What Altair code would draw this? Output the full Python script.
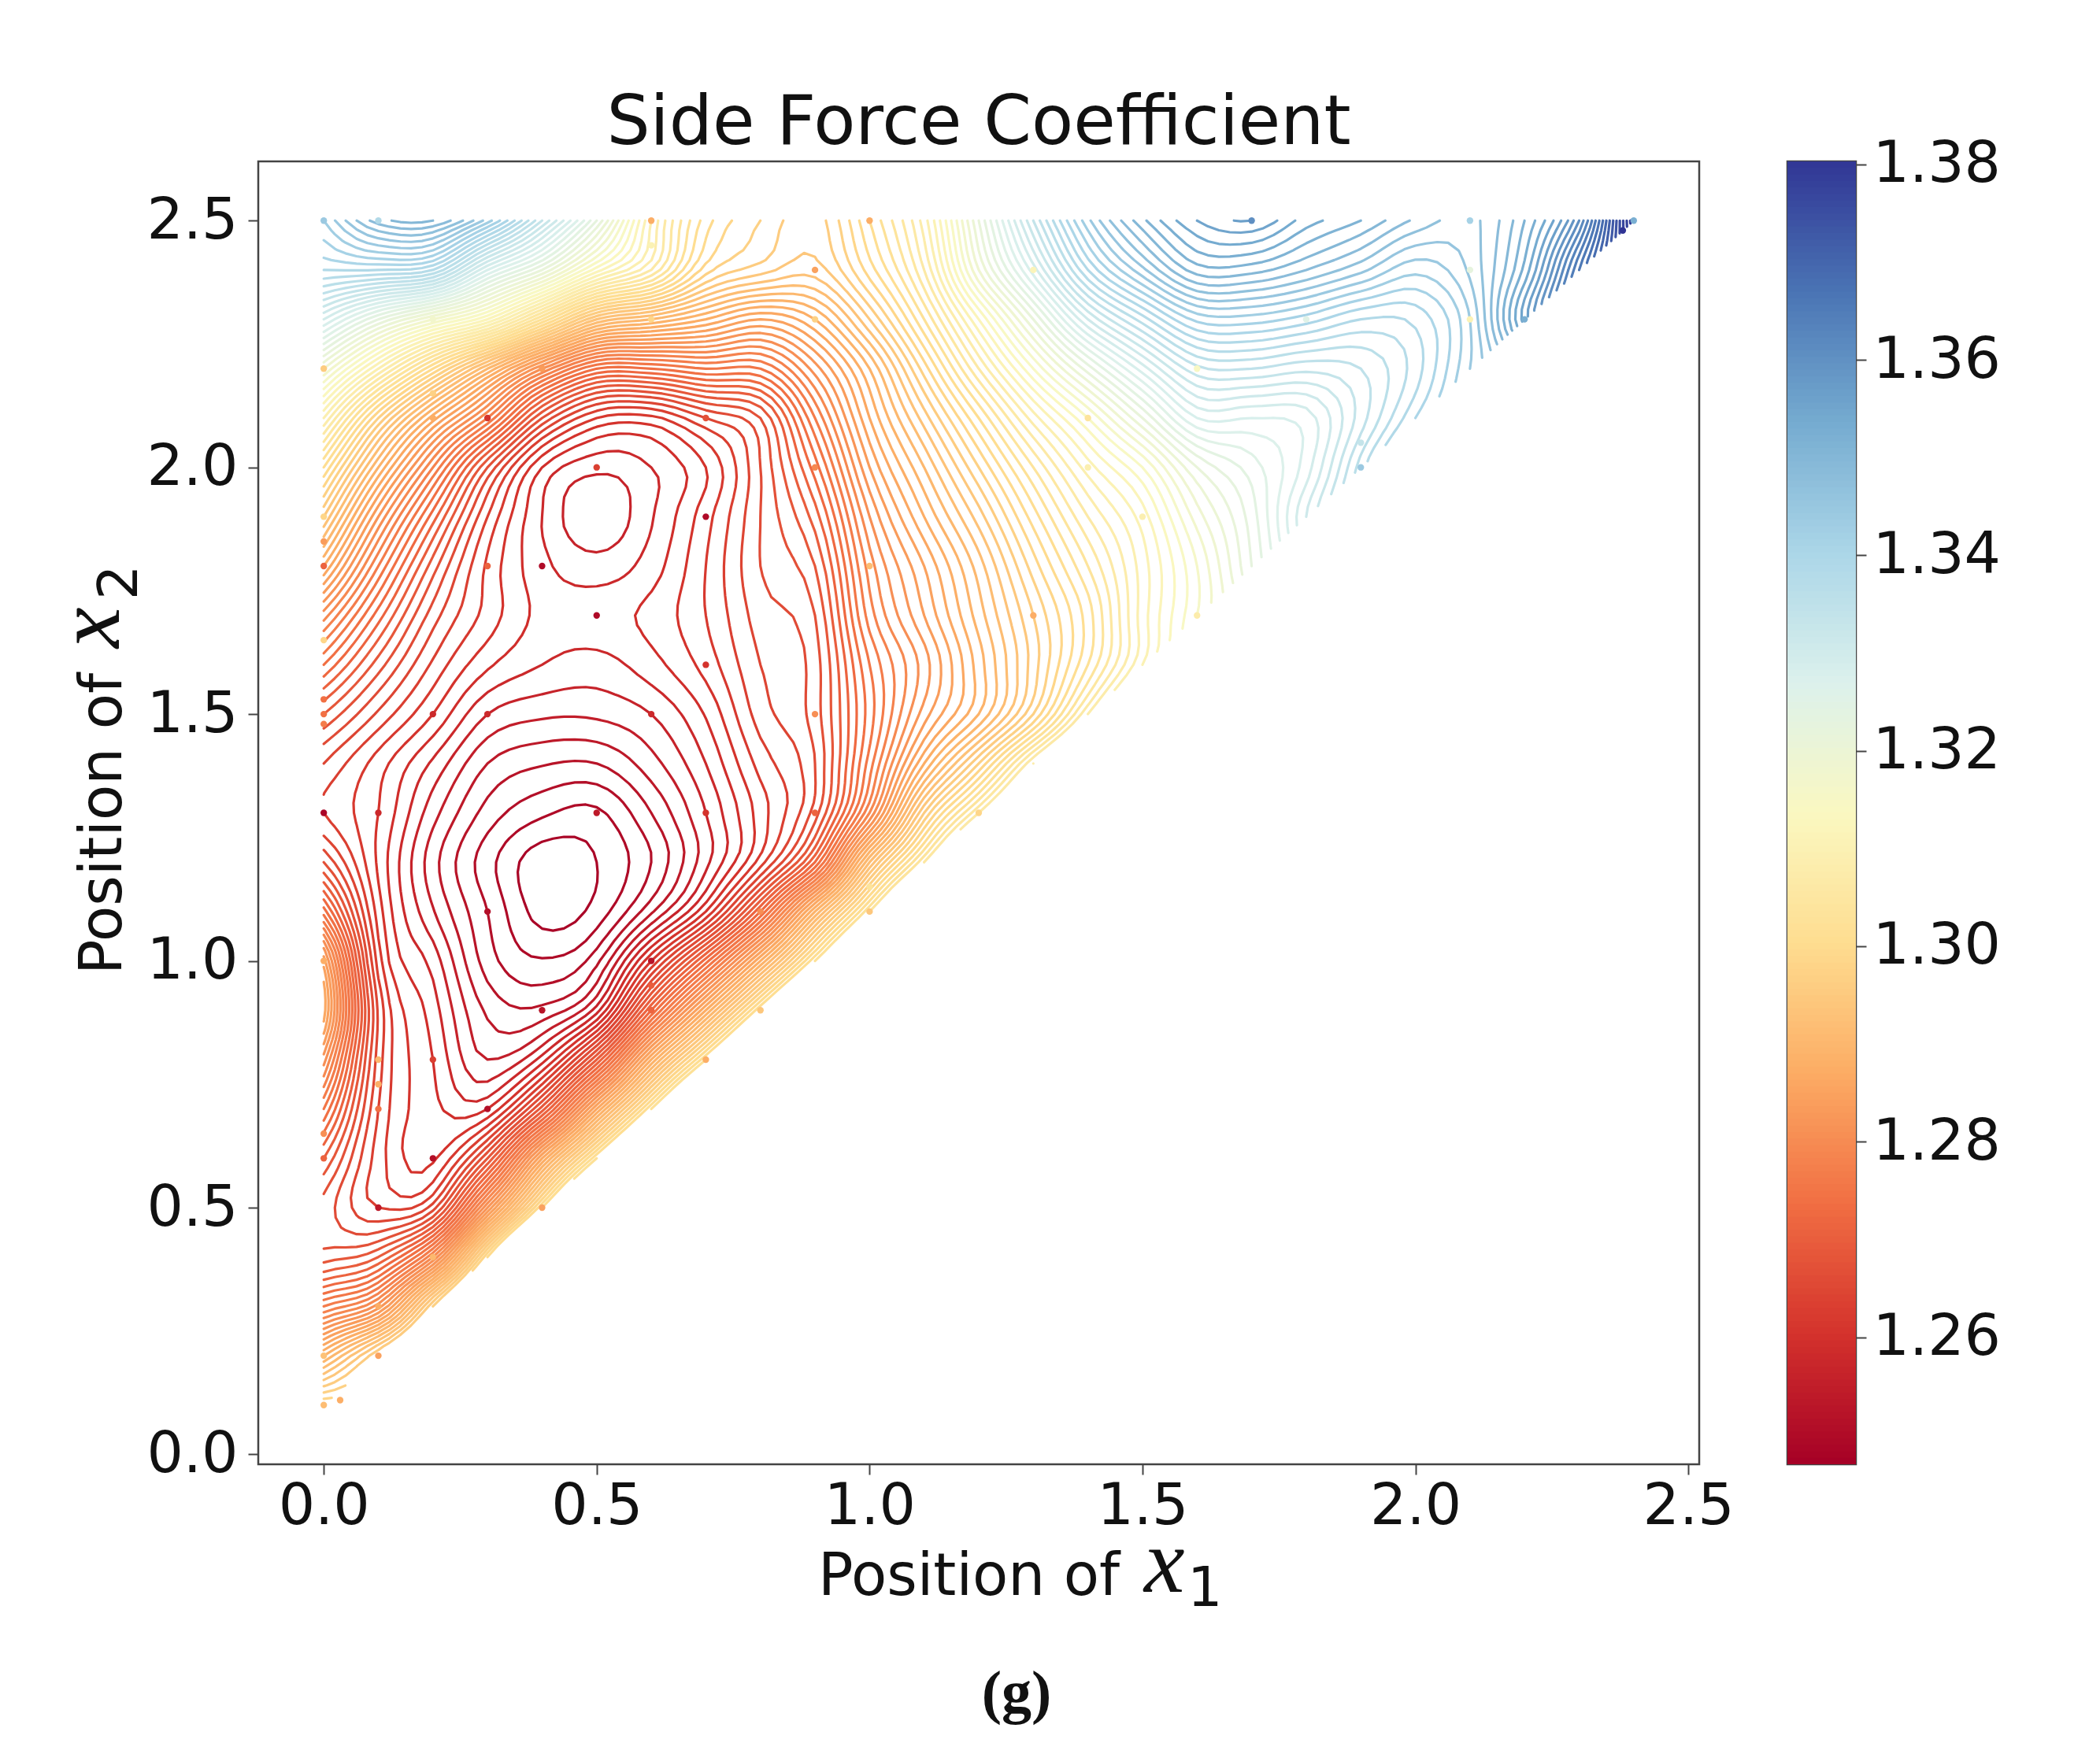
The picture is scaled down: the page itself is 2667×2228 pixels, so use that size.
import numpy as np
import pandas as pd
import altair as alt

alt.data_transformers.disable_max_rows()

# Each list runs from y = x + 0.1 up to y = 2.5.
col_00 = [39,31,22,15.5,14.6,17,21,25.5,29.5,27.5,20.5,15,12,13,16,20,24.5,30,35,40,46,53,61,68,71]
col_01 = [37,25.5,17,12,11.5,12,12.5,12.8,11.5,10.5,9.8,10,10.5,12.8,15.5,18.5,22,26,31,37,46,56,68,75.5]
col_02 = [37,24,13.5,9.8,9.3,9,8.5,7.6,6.1,5.4,6.4,7.8,10,11.8,13.5,15.5,18.5,23,29.5,39,52,67,76]
col_03 = [39,26,16,9,6,4.8,3.5,3,2.4,3.6,5,7,9.2,10.6,10.8,12,15,23,32,48,60,71.5]
col_04 = [40,29,16.5,8.5,4.3,2.1,0.6,0.4,2.2,4.1,6.2,8,8.7,8.3,8,9,15,25,41,55,64]
col_05 = [41,29,17,7.5,3.7,1.4,1,1.8,4,6.2,7.6,8.6,7.4,6.2,7.3,11,20,34,48.5,56]
col_06 = [41,30,19,11,4.8,3,4,5.6,7,8.6,9.3,8.5,7.9,8,10.7,20,32,44,46]
col_07 = [41,30,19.5,10,6.7,7,8,9.1,10.4,11,11,10.6,10,13,21,30,37.5,39.5]
col_08 = [41,30,19,11.5,10.5,11.4,12.5,13,13.5,14,14,14,15,21,28,35.5,37]
col_09 = [41,31,19,14.5,14,14.5,14.5,15,16,17.5,19.5,22,25.5,30,34.5,35.5]
col_10 = [42,33,24,21.5,20.5,21,22.5,23.5,25,27,29,31,35,38.5,40]
col_11 = [43,36,30,26.5,25.5,27,28,30,32,34.5,37.5,41,44,45.5]
col_12 = [44,37,31,30.5,31.5,32.5,34.5,37,40,44,48,53,55]
col_13 = [45,37,35.5,36,37.5,39.5,42,45.5,50,55,60.5,64]
col_14 = [45,41,40.5,42,44,46.5,50,55.5,62,68,71.7]
col_15 = [47,46.5,46.5,47.5,50,55,60.5,66.5,72.7,76.7]
col_16 = [51,51,52.5,55,60,64.7,70.3,76.5,80]
col_17 = [56,56.5,57.5,60,65,70.5,76.4,81]
col_18 = [62,60.5,60.5,64.3,69.5,75,78.5]
col_19 = [66.5,64.5,65,68,73.3,77]
col_20 = [69,67.5,68.3,71.3,74.8]
col_21 = [72,72,73.2,73.7]
col_22 = [80.5,78.3,77]
col_23 = [88,84]
col_24 = [99]
columns = [col_00,col_01,col_02,col_03,col_04,col_05,col_06,col_07,col_08,col_09,col_10,col_11,
           col_12,col_13,col_14,col_15,col_16,col_17,col_18,col_19,col_20,col_21,col_22,col_23,col_24]

# Sample points with their colour read as a level
dot_x = [0,0.1,0.6,0.6,1,1.7,2.1,2.4,2.38,0.2,0.6,0.9,0.9,1.3,1.8,1.6,2.1,2.1,2.2,1.4,1.4,1.5,1.9,1.9,
         0,0.4,0.2,0.2,0.3,0.7,0.5,0.9,0,0,0,0.7,0.4,0.3,1.0,0.5,1.3,1.6,0,0.7,0.9,0,0,0,0.2,0.3,0.6,
         0,0.1,0.5,0.7,0.9,1.2,0.3,0.8,1.0,1.0,0.6,0.6,0.6,0.8,0.4,0,0.1,0.1,0.2,0.1,0.3,0.7,0,0,0.2,0.1,0.4,0.2,0.1,0.1,0,0,0.03]
dot_y = [2.5,2.5,2.5,2.45,2.5,2.5,2.5,2.5,2.48,2.3,2.3,2.4,2.3,2.4,2.3,2.2,2.4,2.3,2.3,2.1,2.0,1.9,2.05,2.0,
         2.2,2.2,2.15,2.1,2.1,2.1,2.0,2.0,1.9,1.85,1.8,1.9,1.8,1.8,1.8,1.7,1.7,1.7,1.65,1.6,1.5,1.53,1.5,1.48,1.5,1.5,1.5,
         1.3,1.3,1.3,1.3,1.3,1.3,1.1,1.1,1.1,1.15,1.0,0.95,0.9,0.9,0.9,1.0,0.8,0.75,0.8,0.7,0.7,0.8,0.65,0.6,0.6,0.5,0.5,0.4,0.3,0.2,0.2,0.1,0.11]
dot_lv = [72,68,30,47,30,84,70,78,99,52,38,28,37,48,58,50,56,47,78,42,46,46,64,72,
          36,27,37,30,10,15,12,24,38,27,18,2,2,18,33,2,30,45,38,10,25,20,20,22,8,8,8,
          1,8,5,10,18,38,3,25,35,42,4,17,18,35,4,30,32,30,12,20,3,30,25,18,3,5,28,32,30,28,34,33,30]

x_ticks = [0.0,0.5,1.0,1.5,2.0,2.5]
y_ticks = [0.0,0.5,1.0,1.5,2.0,2.5]
bar_ticks = [1.26,1.28,1.30,1.32,1.34,1.36,1.38]
Z_MIN, Z_MAX, STEP = 1.247, 1.3803, 0.00135
FONT = "DejaVu Sans"
TICK_FS, TITLE_FS = 73, 74
P_W, P_H = 1830, 1655

# ---------- lattice -> finer lattice -> contour lines ----------
N = 25
U = np.full((N, N), np.nan)
for i, c in enumerate(columns):
    U[i, i:] = c
for j in range(N):
    for i in range(j + 1, N):
        U[i, j] = 2 * U[i-1, j] - U[i-2, j] if i - 2 >= 0 and not np.isnan(U[i-2, j]) else U[i-1, j]

def refine(A, f):
    n = A.shape[0]
    P = np.concatenate([[2*A[0]-A[1]], A, [2*A[-1]-A[-2]]], axis=0)
    out = []
    for k in range(n - 1):
        p0, p1, p2, p3 = P[k], P[k+1], P[k+2], P[k+3]
        for s in range(f):
            t = s / f
            out.append(0.5*((2*p1)+(-p0+p2)*t+(2*p0-5*p1+4*p2-p3)*t*t+(-p0+3*p1-3*p2+p3)*t**3))
    out.append(A[-1])
    return np.array(out)

F_STEP = 5
F = refine(U, F_STEP)
F = refine(F.T, F_STEP).T
xs = np.linspace(0, 2.4, F.shape[0])
ys = np.linspace(0.1, 2.5, F.shape[1])
XX, YY = np.meshgrid(xs, ys, indexing="ij")
inside = YY >= XX + 0.1 - 1e-9
cell_ok = inside[:-1,:-1] | inside[1:,:-1] | inside[:-1,1:] | inside[1:,1:]

def trace(level):
    up = F >= level
    s = up[:-1,:-1].astype(int) + up[1:,:-1] + up[:-1,1:] + up[1:,1:]
    I, J = np.where(cell_ok & (s > 0) & (s < 4))
    links = {}
    def add(a, b):
        links.setdefault(a, []).append(b)
        links.setdefault(b, []).append(a)
    for i, j in zip(I.tolist(), J.tolist()):
        a, b, c, d = up[i,j], up[i+1,j], up[i+1,j+1], up[i,j+1]
        e = []
        B, R, T, L = ("h",i,j), ("v",i+1,j), ("h",i,j+1), ("v",i,j)
        if a != b: e.append(B)
        if b != c: e.append(R)
        if c != d: e.append(T)
        if d != a: e.append(L)
        if len(e) == 2:
            add(e[0], e[1])
        elif len(e) == 4:
            centre = F[i:i+2, j:j+2].mean() >= level
            if centre == a:
                add(B, R); add(T, L)
            else:
                add(B, L); add(R, T)
    def pos(e):
        k, i, j = e
        if k == "h":
            v0, v1 = F[i,j], F[i+1,j]
            t = (level-v0)/(v1-v0)
            return xs[i]+t*(xs[i+1]-xs[i]), ys[j]
        v0, v1 = F[i,j], F[i,j+1]
        t = (level-v0)/(v1-v0)
        return xs[i], ys[j]+t*(ys[j+1]-ys[j])
    seen, chains = set(), []
    starts = [k for k, v in links.items() if len(v) == 1] + list(links)
    for st in starts:
        if st in seen:
            continue
        chain, cur, prev = [st], st, None
        seen.add(st)
        while True:
            nxt = [n for n in links[cur] if n != prev and (n not in seen or (n == st and len(chain) > 2))]
            if not nxt:
                break
            n = nxt[0]
            chain.append(n)
            if n == st:
                break
            seen.add(n)
            prev, cur = cur, n
        chains.append([pos(e) for e in chain])
    return chains

def clip_diag(chain):
    """Cut a line where it leaves the triangle y >= x + 0.1."""
    runs, run = [], []
    for k, (px, py) in enumerate(chain):
        ok = py >= px + 0.1
        if ok:
            if k > 0 and not run:
                qx, qy = chain[k-1]
                d0, d1 = qy-qx-0.1, py-px-0.1
                t = d0/(d0-d1)
                run.append((qx+t*(px-qx), qy+t*(py-qy)))
            run.append((px, py))
        elif run:
            qx, qy = chain[k-1]
            d0, d1 = qy-qx-0.1, py-px-0.1
            t = d0/(d0-d1)
            run.append((qx+t*(px-qx), qy+t*(py-qy)))
            runs.append(run)
            run = []
    if run:
        runs.append(run)
    return [r for r in runs if len(r) > 1]

rows = []
cid = 0
for lv in range(1, 100):
    z = round(Z_MIN + lv * STEP, 5)
    for ch in trace(lv):
        for piece in clip_diag(ch):
            cid += 1
            for s, (px, py) in enumerate(piece):
                rows.append({"x": round(float(px),4), "y": round(float(py),4), "z": z, "c": cid, "s": s})
lines_df = pd.DataFrame(rows)

dots_df = pd.DataFrame({"x": dot_x, "y": dot_y, "z": [Z_MIN + v*STEP for v in dot_lv]})
bar_edges = np.linspace(Z_MIN, Z_MAX, 201)
bar_df = pd.DataFrame({"lo": bar_edges[:-1], "hi": np.minimum(bar_edges[1:] + 0.0012, Z_MAX),
                       "z": (bar_edges[:-1]+bar_edges[1:])/2})

cscale = alt.Scale(scheme="redyellowblue", domain=[Z_MIN, Z_MAX])
xscale = alt.Scale(domain=[-0.12, 2.52], nice=False, zero=False)
yscale = alt.Scale(domain=[-0.02, 2.62], nice=False, zero=False)
axis_common = dict(title=None, grid=False, domain=False, tickSize=13, tickWidth=2, tickColor="#444444",
                   labelFont=FONT, labelFontSize=TICK_FS, labelColor="#111111", format=".1f")

lines = alt.Chart(lines_df).mark_line(strokeWidth=3.2, strokeCap="round", strokeJoin="round").encode(
    x=alt.X("x:Q", scale=xscale, axis=alt.Axis(values=x_ticks, labelPadding=4, **axis_common)),
    y=alt.Y("y:Q", scale=yscale, axis=alt.Axis(values=y_ticks, labelPadding=13, **axis_common)),
    color=alt.Color("z:Q", scale=cscale, legend=None),
    detail="c:N",
    order="s:Q",
)
dots = alt.Chart(dots_df).mark_circle(size=70, opacity=1).encode(
    x=alt.X("x:Q", scale=xscale), y=alt.Y("y:Q", scale=yscale),
    color=alt.Color("z:Q", scale=cscale, legend=None),
)

one = pd.DataFrame({"a": [0]})
def label(txt, x, y, size, font=FONT, **kw):
    return alt.Chart(one).mark_text(text=txt, font=font, fontSize=size, color="#111111",
                                    align=kw.pop("align", "left"), baseline="alphabetic", **kw).encode(
        x=alt.value(x), y=alt.value(y))

texts = [
    label("Position of", 711, 1821, TITLE_FS),
    label("x", 1125, 1817, 116, font="Liberation Serif", fontStyle="italic"),
    label("1", 1180, 1835, 70),
    label("Position of", -174, 1033, TITLE_FS, angle=270),
    label("x", -177, 618, 116, font="Liberation Serif", fontStyle="italic", angle=270),
    label("2", -154, 557, 70, angle=270),
    label("(g)", 963, 1970, 76, font="Liberation Serif", fontWeight="bold", align="center"),
]

main = alt.layer(lines, dots, *texts).properties(
    width=P_W, height=P_H,
    title=alt.TitleParams("Side Force Coefficient", font=FONT, fontSize=87, fontWeight="normal",
                          color="#111111", anchor="middle", offset=4),
)

bar = alt.Chart(bar_df).mark_rect().encode(
    y=alt.Y("lo:Q", scale=alt.Scale(domain=[Z_MIN, Z_MAX], nice=False, zero=False),
            axis=alt.Axis(orient="right", title=None, values=bar_ticks, format=".2f", grid=False, domain=False,
                          tickSize=13, tickWidth=2, tickColor="#444444", labelFont=FONT,
                          labelFontSize=TICK_FS, labelColor="#111111", labelPadding=8)),
    y2="hi:Q",
    color=alt.Color("z:Q", scale=cscale, legend=None),
    x=alt.value(0), x2=alt.value(87),
).properties(width=87, height=P_H)

chart = alt.hconcat(main, bar, spacing=64).configure_view(stroke="#444444", strokeWidth=2.5).properties(
    background="white", padding={"left": 48, "top": 103, "right": 5, "bottom": 5})
chart.save("out.html", embed_options={"renderer": "svg", "actions": False})
